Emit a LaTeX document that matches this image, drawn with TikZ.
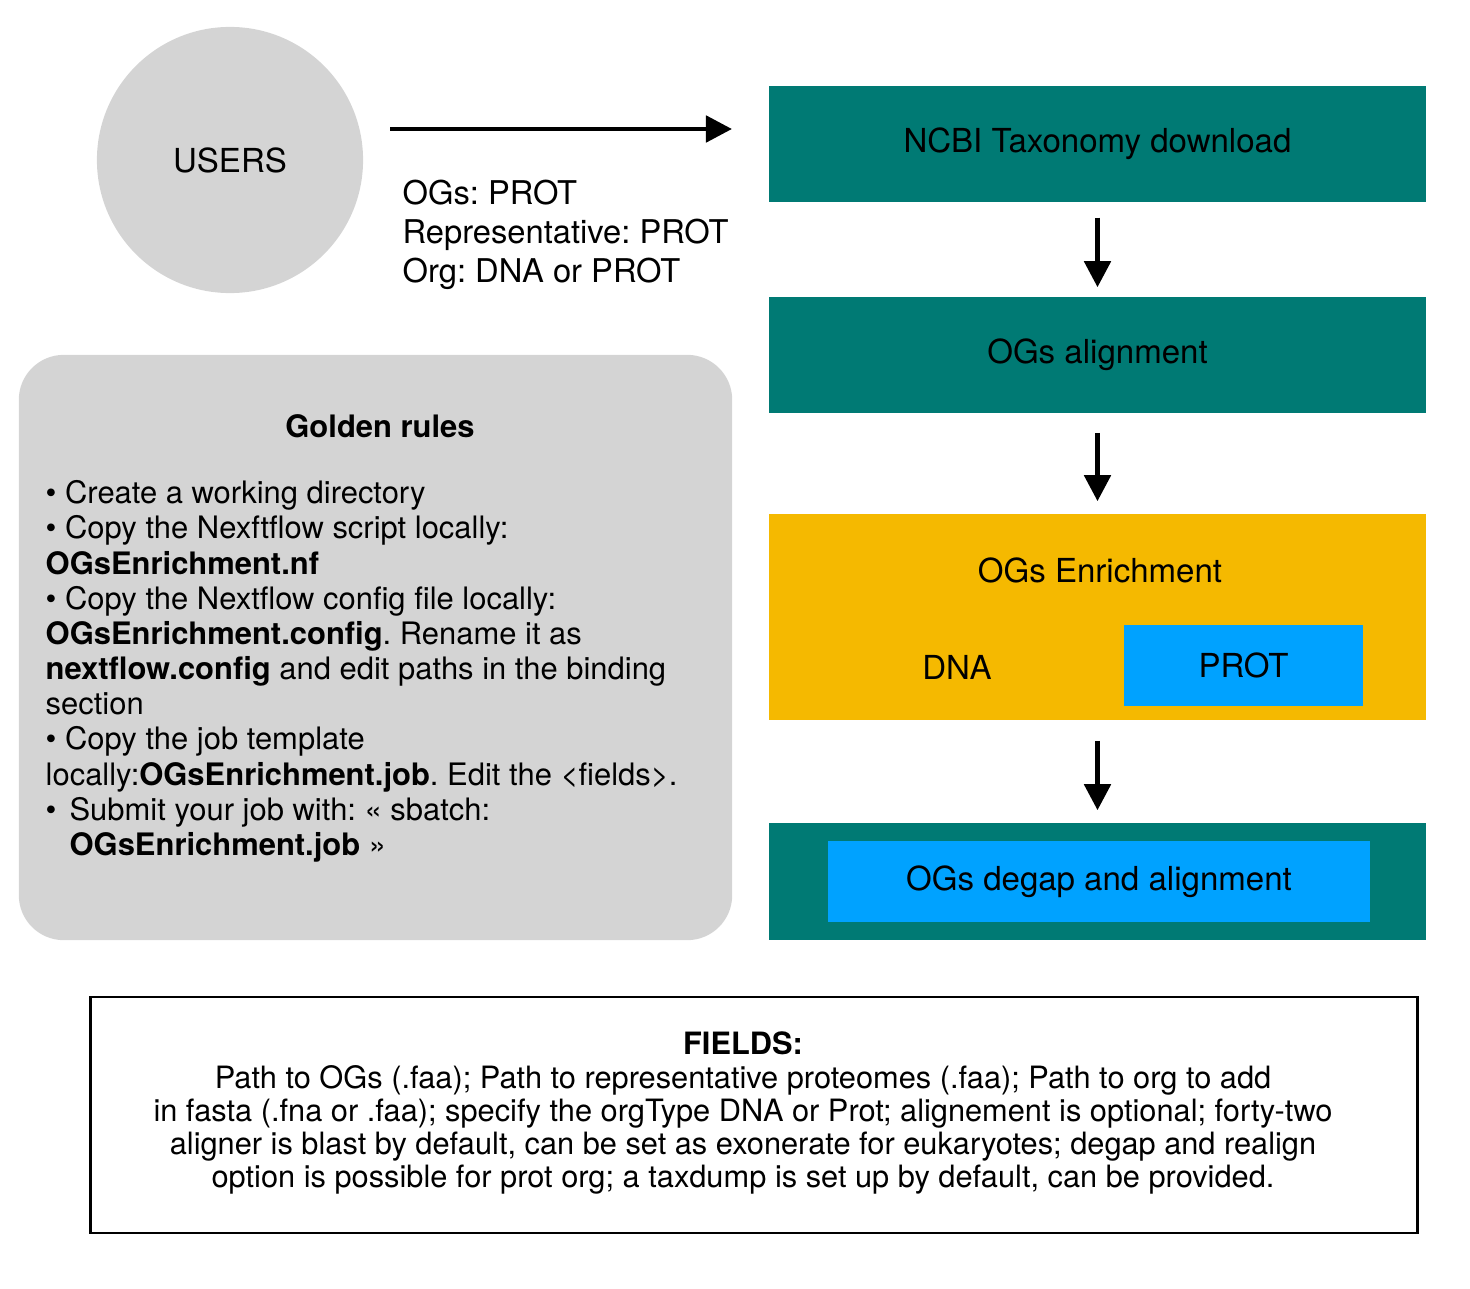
\documentclass[tikz,border=0pt]{standalone}
\usepackage{fontspec}
\setmainfont{TeX Gyre Heros}
\usetikzlibrary{arrows.meta}

\definecolor{ogteal}{RGB}{0,122,116}
\definecolor{ogyellow}{RGB}{245,185,0}
\definecolor{ogblue}{RGB}{0,162,255}
\definecolor{oggray}{RGB}{212,212,212}

\begin{document}
\frenchspacing
\begin{tikzpicture}[x=0.01cm, y=-0.01cm,
    every node/.style={font=\fontsize{9.4}{11}\selectfont},
    tealbox/.style={rectangle, fill=ogteal, minimum width=6.57cm, minimum height=1.16cm, inner sep=0pt},
    bluebox/.style={rectangle, fill=ogblue, minimum height=0.81cm, inner sep=0pt},
    flow/.style={-{Triangle[length=7.4pt, width=7.4pt]}, line width=1.4pt}]
    % Fix the page size
    \useasboundingbox (0,0) rectangle (1470,1288);

    % Users and the files they give
    \node[circle, fill=oggray, minimum size=2.66cm] (users) at (230,160) {USERS};
    \node[anchor=north west, align=left, inner sep=0pt, font=\fontsize{9.3}{11.2}\selectfont] (inputs) at (402,179)
        {OGs: PROT\\Representative: PROT\\Org: DNA or PROT};

    % Pipeline steps
    \node[tealbox] (ncbi) at (1097.5,144) {NCBI Taxonomy download};
    \node[tealbox] (ogalign) at (1097.5,355) {OGs alignment};
    \node[rectangle, fill=ogyellow, minimum width=6.57cm, minimum height=2.06cm] (enrich) at (1097.5,617) {};
    \node (enrichlabel) at (1100,570) {OGs Enrichment};
    \node (dna) at (957,667) {DNA};
    \node[bluebox, minimum width=2.39cm] (prot) at (1243.5,665.5) {PROT};
    \node[tealbox, minimum height=1.17cm] (degap) at (1097.5,881.5) {};
    \node[bluebox, minimum width=5.42cm] (degapin) at (1099,881.5) {OGs degap and alignment};

    % Arrows between the steps
    \coordinate (usersout) at (390,129);
    \coordinate (ncbiin) at (732,129);
    \draw[flow] (usersout) -- (ncbiin);
    \draw[flow, shorten <=0.15cm, shorten >=0.09cm] (ncbi) -- (ogalign);
    \draw[flow, shorten <=0.19cm, shorten >=0.12cm] (ogalign) -- (enrich);
    \draw[flow, shorten <=0.2cm, shorten >=0.12cm] (enrich) -- (degap);

    % Golden rules
    \node[rectangle, rounded corners=0.45cm, fill=oggray, minimum width=7.13cm, minimum height=5.85cm] (rules) at (375.5,647.5) {};
    \node[font=\fontsize{8.8}{10}\selectfont\bfseries] (rulestitle) at (380,426) {Golden rules};
    \node[anchor=north west, align=left, inner sep=0pt, font=\fontsize{8.8}{10}\selectfont] (rulestext) at (45,480)
        {• Create a working directory\\
         • Copy the Nexftflow script locally:\\
         \textbf{OGsEnrichment.nf}\\
         • Copy the Nextflow config file locally:\\
         \textbf{OGsEnrichment.config}. Rename it as\\
         \textbf{nextflow.config} and edit paths in the binding\\
         section\\
         • Copy the job template\\
         locally:\textbf{OGsEnrichment.job}. Edit the <fields>.\\
         \makebox[6.8pt][l]{•}Submit your job with: « sbatch:\\
         \hspace*{6.8pt}\textbf{OGsEnrichment.job} »};

    % Fields of the job file
    \node[draw, line width=0.8pt, minimum width=13.26cm, minimum height=2.36cm] (fields) at (754,1115) {};
    \node[align=center, inner sep=0pt, font=\fontsize{8.75}{9.4}\selectfont] (fieldstext) at (743,1113)
        {\textbf{FIELDS:}\\
         Path to OGs (.faa); Path to representative proteomes (.faa); Path to org to add\\
         in fasta (.fna or .faa); specify the orgType DNA or Prot; alignement is optional; forty-two\\
         aligner is blast by default, can be set as exonerate for eukaryotes; degap and realign\\
         option is possible for prot org; a taxdump is set up by default, can be provided.};
\end{tikzpicture}
\end{document}
